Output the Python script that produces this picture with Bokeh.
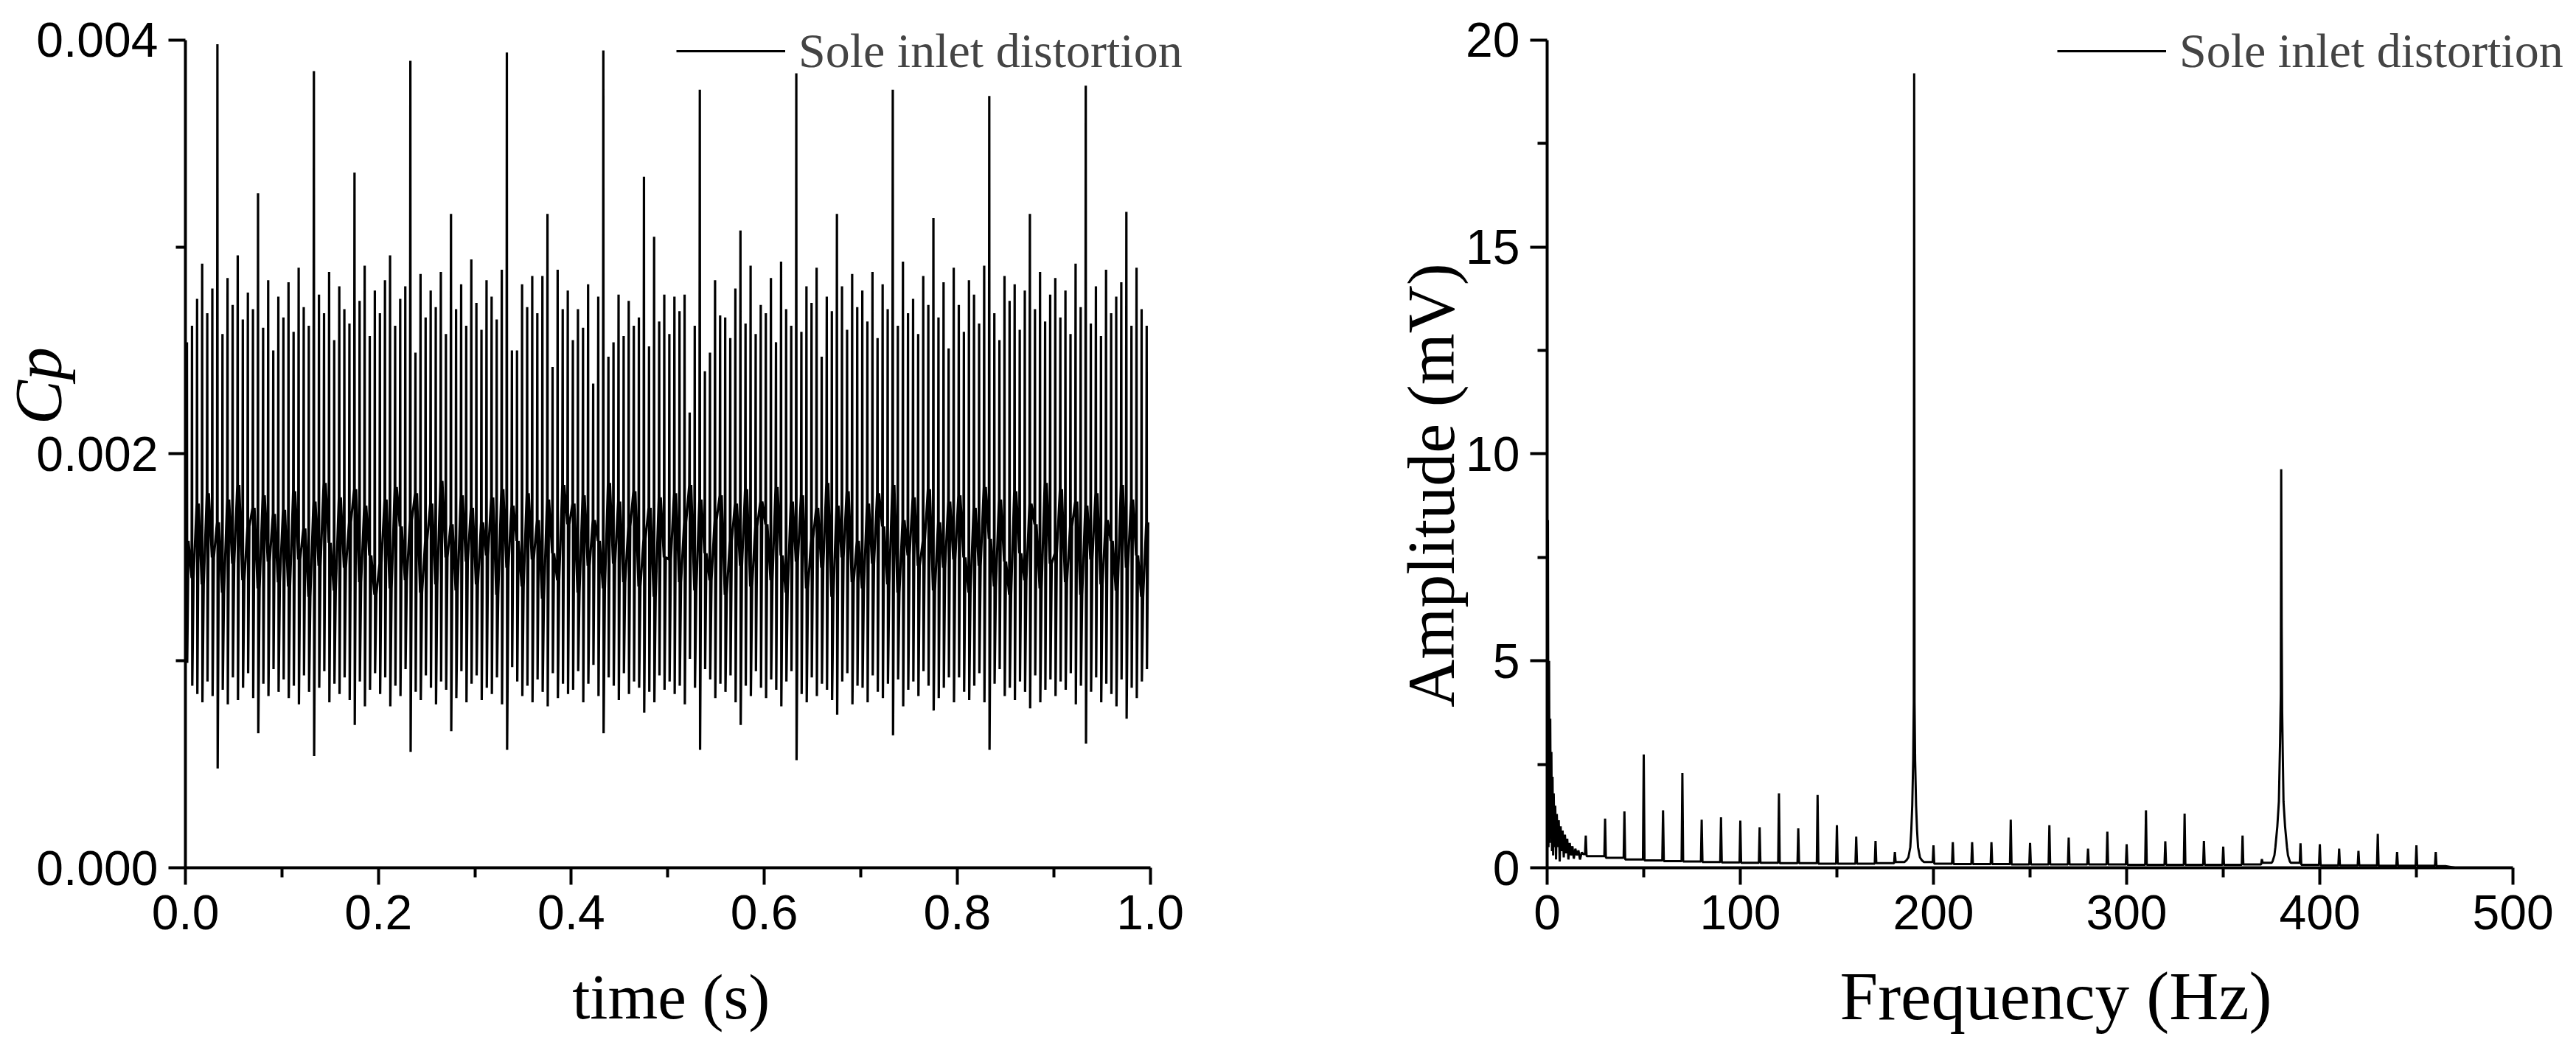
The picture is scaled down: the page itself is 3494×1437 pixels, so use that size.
#!/usr/bin/env python

import numpy as np
from bokeh.plotting import figure
from bokeh.layouts import row
from bokeh.models import Range1d, FixedTicker, NumeralTickFormatter
from bokeh.embed import file_html
from bokeh.resources import INLINE

legend_text = 'Sole inlet distortion'

# --- time signal, one stroke per 190 Hz cycle (values in 1e-5 Cp) ---
cycle_rate = 190.0
cp_tops = [
    254, 262, 275, 292, 268, 280, 398, 258, 285, 272, 296, 265, 278, 270, 326, 261, 284, 250, 276,
    266, 283, 259, 290, 271, 262, 385, 277, 268, 288, 255, 281, 270, 263, 336, 274, 291, 257, 279,
    268, 284, 296, 262, 275, 281, 390, 249, 287, 266, 279, 271, 288, 258, 316, 270, 282, 262, 294,
    273, 260, 284, 276, 265, 289, 394, 250, 250, 282, 271, 286, 268, 286, 316, 242, 289, 270, 279,
    255, 270, 261, 282, 234, 276, 395, 247, 254, 277, 257, 274, 262, 266, 334, 252, 305, 264, 277,
    258, 276, 269, 277, 220, 262, 376, 240, 249, 284, 267, 266, 256, 280, 308, 263, 291, 258, 272,
    268, 285, 254, 293, 270, 262, 384, 259, 281, 273, 290, 247, 276, 269, 316, 281, 260, 287, 271,
    279, 264, 288, 256, 282, 270, 376, 262, 293, 268, 275, 258, 286, 272, 314, 266, 283, 251, 290,
    272, 259, 284, 277, 263, 291, 373, 268, 255, 286, 274, 282, 260, 279, 316, 270, 288, 264, 277,
    285, 266, 279, 258, 292, 271, 378, 263, 281, 257, 289, 268, 276, 283, 317, 262, 290, 270, 262,
]
cp_bottoms = [
    99, 88, 84, 80, 90, 83, 48, 86, 79, 92, 81, 87, 94, 82, 65, 89, 83, 96, 85,
    91, 82, 88, 79, 93, 85, 54, 87, 95, 80, 89, 84, 92, 81, 69, 90, 78, 86, 94,
    84, 92, 78, 88, 83, 96, 56, 85, 81, 93, 87, 79, 90, 86, 66, 82, 95, 80, 89,
    93, 81, 87, 84, 92, 79, 57, 97, 90, 83, 88, 80, 91, 85, 78, 94, 82, 89, 84,
    86, 95, 80, 89, 98, 83, 65, 92, 88, 81, 94, 84, 90, 87, 75, 85, 80, 93, 86,
    90, 84, 88, 79, 101, 87, 57, 96, 91, 82, 89, 85, 93, 80, 69, 88, 83, 95, 87,
    82, 91, 86, 78, 90, 95, 52, 84, 80, 92, 83, 89, 86, 81, 74, 90, 94, 79, 88,
    87, 80, 93, 85, 82, 89, 64, 91, 78, 86, 90, 83, 95, 88, 76, 82, 87, 92, 80,
    92, 85, 81, 88, 94, 80, 57, 89, 96, 83, 87, 81, 90, 85, 77, 93, 80, 86, 91,
    83, 90, 86, 94, 79, 88, 60, 85, 92, 80, 89, 84, 78, 91, 72, 87, 82, 90, 96,
]
cp_mids = [
    158, 140, 176, 137, 181, 150, 167, 133, 178, 147, 185, 139, 165, 174, 135, 180, 148, 171, 138,
    173, 136, 182, 149, 164, 131, 177, 146, 186, 157, 134, 179, 145, 167, 183, 138, 175, 151, 132,
    147, 178, 135, 184, 165, 139, 168, 181, 133, 158, 176, 137, 187, 150, 166, 134, 180, 148, 174,
    137, 167, 151, 179, 132, 183, 145, 175, 158, 136, 181, 149, 168, 130, 178, 152, 139, 185, 166,
    176, 133, 180, 146, 168, 158, 135, 186, 147, 177, 138, 165, 182, 136, 159, 174, 131, 179, 150,
    149, 181, 138, 167, 185, 134, 178, 152, 139, 168, 180, 132, 158, 176, 146, 183, 136, 165, 177,
    166, 139, 184, 151, 133, 177, 148, 180, 135, 159, 174, 145, 186, 131, 175, 150, 182, 138, 158,
    135, 176, 147, 181, 165, 137, 185, 133, 168, 151, 179, 146, 158, 183, 134, 167, 145, 177, 149,
    180, 150, 133, 174, 146, 184, 159, 136, 178, 148, 132, 182, 152, 139, 176, 166, 135, 186, 147,
    152, 183, 138, 165, 177, 132, 175, 149, 181, 137, 168, 158, 134, 185, 145, 178, 151, 131, 167,
]

# --- spectrum (mV) ---
lf_freqs = [0.0, 0.4, 0.7, 1.0, 1.3, 1.6, 1.9, 2.2, 2.5, 2.8, 3.1, 3.4, 3.8, 4.2, 4.6, 5.0,
            5.5, 6.0, 6.5, 7.0, 7.5, 8.0, 8.6, 9.2, 9.8, 10.4, 11.0, 11.7, 12.4, 13.1, 13.8,
            14.6, 15.4, 16.2, 17.0, 17.9, 18.8]
lf_amps = [2.0, 8.4, 0.5, 5.0, 0.6, 3.6, 0.8, 2.8, 0.4, 2.2, 0.3, 1.8, 0.5, 1.5, 0.2, 1.3,
           0.5, 1.15, 0.15, 1.0, 0.4, 0.9, 0.25, 0.8, 0.35, 0.7, 0.2, 0.6, 0.3, 0.52, 0.22,
           0.46, 0.3, 0.42, 0.2, 0.37, 0.33]
harm_freqs = [20, 30, 40, 50, 60, 70, 80, 90, 100, 110, 120, 130, 140, 150, 160, 170, 180,
              200, 210, 220, 230, 240, 250, 260, 270, 280, 290, 300, 310, 320, 330, 340, 350,
              360, 370, 390, 400, 410, 420, 430, 440, 450, 460]
harm_amps = [0.78, 1.19, 1.36, 2.74, 1.39, 2.29, 1.16, 1.22, 1.14, 0.98, 1.80, 0.95, 1.76,
             1.03, 0.75, 0.65, 0.38,
             0.54, 0.62, 0.62, 0.62, 1.16, 0.60, 1.03, 0.73, 0.46, 0.87, 0.57, 1.39, 0.64,
             1.31, 0.65, 0.51, 0.78, 0.21, 0.59, 0.57, 0.46, 0.41, 0.82, 0.38, 0.54, 0.38]
floor_freqs = [25, 35, 45, 55, 65, 75, 85, 95, 105, 115, 125, 135, 145, 155, 165, 175, 185,
               195, 205, 215, 225, 235, 245, 255, 265, 275, 285, 295, 305, 315, 325, 335, 345,
               355, 365, 375, 385, 395, 405, 415, 425, 435, 445, 455, 465, 470]
floor_amps = [0.28, 0.24, 0.20, 0.18, 0.16, 0.15, 0.14, 0.13, 0.12, 0.12, 0.11, 0.11, 0.10,
              0.10, 0.10, 0.11, 0.14, 0.14, 0.10, 0.09, 0.09, 0.09, 0.08, 0.08, 0.08, 0.08,
              0.08, 0.08, 0.07, 0.07, 0.07, 0.07, 0.07, 0.07, 0.08, 0.12, 0.12, 0.07, 0.06,
              0.06, 0.06, 0.05, 0.05, 0.05, 0.04, 0.0]
peak1_freqs = [186, 187, 188, 188.5, 189, 189.5, 189.8, 190, 190.2, 190.5, 191, 191.5, 192, 193, 194]
peak1_amps = [0.18, 0.25, 0.5, 0.9, 1.5, 2.6, 4.0, 19.2, 4.0, 2.6, 1.5, 0.9, 0.5, 0.25, 0.18]
peak2_freqs = [375.5, 376.5, 377, 378, 378.8, 379.4, 379.8, 380, 380.25, 380.5, 380.8, 381.2,
               382, 383, 383.5, 384.5]
peak2_amps = [0.15, 0.3, 0.5, 1.0, 1.6, 3.0, 4.2, 9.63, 5.8, 3.8, 2.8, 1.6, 1.0, 0.5, 0.3, 0.15]


def style_axes(p):
    for ax in (p.xaxis[0], p.yaxis[0]):
        ax.axis_line_width = 4
        ax.major_tick_line_width = 4
        ax.minor_tick_line_width = 4
        ax.major_tick_in = 0
        ax.major_tick_out = 23
        ax.minor_tick_in = 0
        ax.minor_tick_out = 13
        ax.major_label_text_font = 'Liberation Sans'
        ax.major_label_text_font_size = '66px'
        ax.major_label_text_color = 'black'
        ax.major_label_standoff = 14
        ax.axis_label_text_font = 'Liberation Serif'
        ax.axis_label_text_font_size = '88px'
        ax.axis_label_text_font_style = 'normal'
        ax.axis_label_text_color = 'black'
    p.xgrid.visible = False
    p.ygrid.visible = False
    p.outline_line_color = None


def style_legend(p, loc):
    lg = p.legend[0]
    lg.location = loc
    lg.padding = 0
    lg.margin = 0
    lg.spacing = 0
    lg.border_line_alpha = 0
    lg.background_fill_alpha = 0
    lg.glyph_width = 148
    lg.glyph_height = 40
    lg.label_height = 40
    lg.label_standoff = 18
    lg.label_text_font = 'Liberation Serif'
    lg.label_text_font_size = '66px'


# left: Cp against time
period = 1.0/cycle_rate
t0 = (np.arange(len(cp_tops)) + 0.3)*period
ts = np.column_stack([t0 - 0.08*period, t0, t0 + 0.05*period, t0 + 0.3*period]).ravel()
cps = np.column_stack([cp_mids, cp_tops, cp_bottoms, cp_mids]).ravel()*1e-5

# frame is a bit larger than the axes so the legend is not clipped
p1 = figure(frame_width=1361, frame_height=1173,
            x_range=Range1d(0, 1.04), y_range=Range1d(0, 0.004178),
            output_backend='svg', toolbar_location=None,
            min_border_left=249, min_border_right=100, min_border_top=4,
            min_border_bottom=243)
p1.line(ts, cps, line_color='black', line_width=3.2, legend_label=legend_text)
style_axes(p1)
p1.xaxis.bounds = (0, 1)
p1.yaxis.bounds = (0, 0.004)
# labels are centred on the frame; the spaces move them onto the axes' centre
p1.xaxis.axis_label = 'time (s)\u2002'
p1.xaxis.axis_label_text_font_size = '87px'
p1.xaxis.axis_label_standoff = 40
p1.yaxis.axis_label = '\u2003\u2002Cp'
p1.yaxis.axis_label_text_font_size = '90px'
p1.yaxis.axis_label_text_font_style = 'italic'
p1.yaxis.axis_label_standoff = -56
p1.xaxis.ticker = FixedTicker(ticks=[0, 0.2, 0.4, 0.6, 0.8, 1.0],
                              minor_ticks=[0.1, 0.3, 0.5, 0.7, 0.9])
p1.xaxis.formatter = NumeralTickFormatter(format='0.0')
p1.yaxis.ticker = FixedTicker(ticks=[0, 0.002, 0.004], minor_ticks=[0.001, 0.003])
p1.yaxis.formatter = NumeralTickFormatter(format='0.000')
style_legend(p1, (666, 1070))

# right: amplitude spectrum
pts = list(zip(lf_freqs, lf_amps))
pts += list(zip(floor_freqs, floor_amps))
pts += list(zip(peak1_freqs, peak1_amps)) + list(zip(peak2_freqs, peak2_amps))
for f, a in zip(harm_freqs, harm_amps):
    lo = floor_amps[max(0, floor_freqs.index(f + 5) - 1)] if f > 20 else lf_amps[-1]
    hi = floor_amps[floor_freqs.index(f + 5)]
    pts += [(f - 0.4, lo), (f, a), (f + 0.4, hi)]
pts.sort()
freqs = [q[0] for q in pts]
amps = [q[1] for q in pts]

p2 = figure(frame_width=1380, frame_height=1173,
            x_range=Range1d(0, 526.7), y_range=Range1d(0, 20.89),
            output_backend='svg', toolbar_location=None,
            min_border_left=386, min_border_right=0, min_border_top=4,
            min_border_bottom=243)
p2.line(freqs, amps, line_color='black', line_width=3, legend_label=legend_text)
style_axes(p2)
p2.xaxis.bounds = (0, 500)
p2.yaxis.bounds = (0, 20)
p2.xaxis.axis_label = 'Frequency (Hz)'
p2.xaxis.axis_label_text_font_size = '93px'
p2.xaxis.axis_label_standoff = 36
p2.yaxis.axis_label = 'Amplitude (mV)\u2003\u2002'
p2.yaxis.axis_label_text_font_size = '90px'
p2.yaxis.axis_label_standoff = -6
p2.xaxis.ticker = FixedTicker(ticks=[0, 100, 200, 300, 400, 500],
                              minor_ticks=[50, 150, 250, 350, 450])
p2.yaxis.ticker = FixedTicker(ticks=[0, 5, 10, 15, 20],
                              minor_ticks=[2.5, 7.5, 12.5, 17.5])
style_legend(p2, (692, 1070))

open('out.html', 'w').write(file_html(row(p1, p2), INLINE))
